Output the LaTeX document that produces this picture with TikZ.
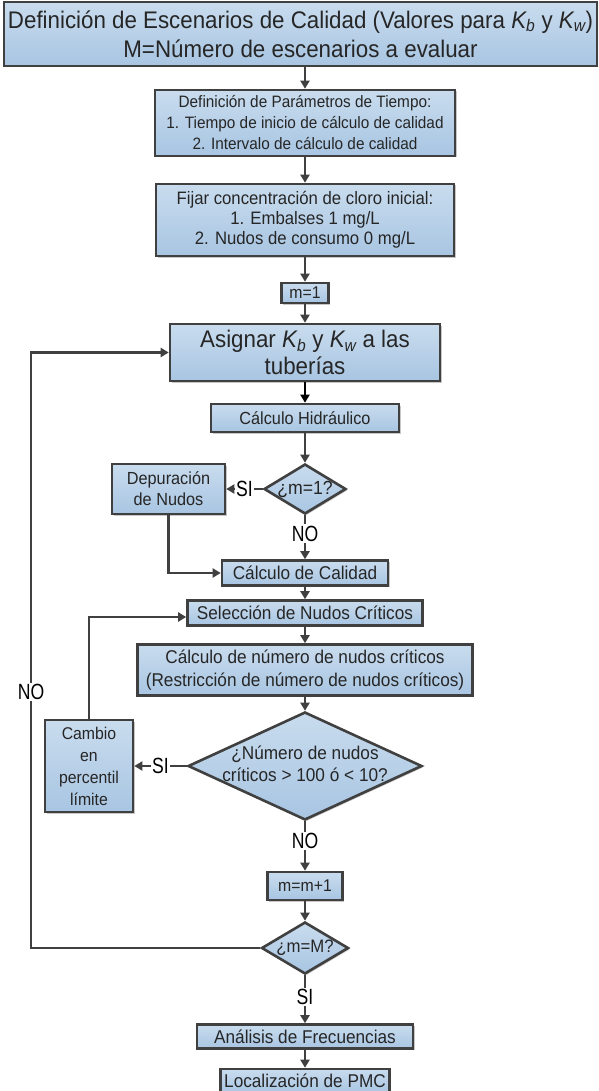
\documentclass[tikz,border=0pt]{standalone}
\usepackage{fontspec}
\setmainfont{Liberation Sans}[FakeStretch=0.93]
\newfontfamily\labfont{Liberation Sans}[FakeStretch=0.8]
\usetikzlibrary{shapes.geometric,arrows.meta,shadows}
\definecolor{bord}{HTML}{404040}
\definecolor{ftop}{HTML}{C9DCEE}
\definecolor{fbot}{HTML}{A8C5E2}
\tikzset{
  box/.style={draw=bord, line width=2.6pt, top color=ftop, bottom color=fbot,
    align=center, inner sep=0pt, text=black!85,
    drop shadow={shadow xshift=1.5pt, shadow yshift=-1.5pt, fill=black, opacity=0.22}},
  dia/.style={box, diamond},
  arr/.style={draw=bord, line width=2.4pt, -{Triangle[length=8pt,width=9pt]}},
  lab/.style={fill=white, inner sep=1.5pt, text=black, font=\labfont\fontsize{22}{22}\selectfont}
}
\newcommand{\Kb}{\textit{K\textsubscript{b}}}
\newcommand{\Kw}{\textit{K\textsubscript{w}}}
\begin{document}
\begin{tikzpicture}[x=1pt,y=-1pt]
\useasboundingbox (0,0) rectangle (598,1091);
\clip (0,0) rectangle (598,1091);

\node[box, minimum width=593pt, minimum height=64pt, font=\fontsize{24}{29}\selectfont] (b1) at (300.5,34)
  {Definición de Escenarios de Calidad (Valores para \Kb{} y \Kw)\\M=Número de escenarios a evaluar};
\node[box, font=\fontsize{16.5}{21}\selectfont, minimum width=300pt, minimum height=66pt] (b2) at (305,123)
  {Definición de Parámetros de Tiempo:\\1. Tiempo de inicio de cálculo de calidad\\2. Intervalo de cálculo de calidad};
\node[box, font=\fontsize{18}{20}\selectfont, minimum width=298pt, minimum height=72pt] (b3) at (305,220)
  {Fijar concentración de cloro inicial:\\1. Embalses 1 mg/L\\2. Nudos de consumo 0 mg/L};
\node[box, font=\fontsize{17}{17}\selectfont, minimum width=47pt, minimum height=20pt] (m1) at (305,293) {m=1};
\node[box, minimum width=270pt, minimum height=57pt, font=\fontsize{24}{27}\selectfont] (asig) at (305,352.5)
  {Asignar \Kb{} y \Kw{} a las\\tuberías};
\node[box, font=\fontsize{17.5}{17.5}\selectfont, minimum width=188pt, minimum height=28pt] (hid) at (305,418) {Cálculo Hidráulico};
\node[dia, minimum width=82pt, minimum height=50pt, font=\fontsize{19}{19}\selectfont] (d1) at (305,489) {\makebox[0pt]{¿m=1?}};
\node[box, font=\fontsize{17.5}{21}\selectfont, minimum width=113pt, minimum height=50pt] (dep) at (168.5,489) {Depuración\\de Nudos};
\node[box, font=\fontsize{18.5}{18.5}\selectfont, minimum width=166pt, minimum height=25pt] (cal) at (305,573) {Cálculo de Calidad};
\node[box, font=\fontsize{18.5}{18.5}\selectfont, minimum width=235pt, minimum height=25pt] (sel) at (305,613) {Selección de Nudos Críticos};
\node[box, font=\fontsize{18.5}{23}\selectfont, minimum width=335pt, minimum height=51pt] (num) at (305,670)
  {Cálculo de número de nudos críticos\\(Restricción de número de nudos críticos)};
\node[dia, minimum width=234pt, minimum height=108pt, font=\fontsize{18.5}{22}\selectfont] (d2) at (305,766)
  {\makebox[0pt]{\begin{tabular}{@{}c@{}}¿Número de nudos\\críticos > 100 ó < 10?\end{tabular}}};
\node[box, font=\fontsize{17}{22}\selectfont, minimum width=88pt, minimum height=92pt] (cam) at (89,766) {Cambio\\en\\percentil\\límite};
\node[box, font=\fontsize{17}{17}\selectfont, minimum width=75pt, minimum height=28pt] (mm) at (305,886) {m=m+1};
\node[dia, minimum width=87pt, minimum height=52pt, font=\fontsize{18}{18}\selectfont] (d3) at (305,948) {\makebox[0pt]{¿m=M?}};
\node[box, font=\fontsize{18.5}{18.5}\selectfont, minimum width=216pt, minimum height=24pt] (ana) at (305,1036.5) {Análisis de Frecuencias};
\node[box, minimum width=169pt, minimum height=24pt, font=\fontsize{18.5}{18.5}\selectfont] (loc) at (305,1081) {Localización de PMC};

\coordinate (lnx) at (31,948);
\coordinate (lny) at (31,352.5);
\coordinate (cx) at (89,617);
\coordinate (dx) at (168.5,573);

\draw[arr] (b2.north |- b1.south) -- (b2.north);
\draw[arr] (b2) -- (b3);
\draw[arr] (b3) -- (m1);
\draw[arr] (m1) -- (asig);
\draw[line width=2.4pt, -{Triangle[length=8pt,width=9pt]}] (asig) -- (hid);
\draw[arr] (hid) -- (d1);
\draw[arr] (d1.west) -- node[lab] {SI} (dep.east);
\draw[arr] (d1.south) -- node[lab, pos=0.42] {NO} (cal.north);
\draw[arr] (dep.south) -- (dx) -- (cal.west);
\draw[arr] (cal) -- (sel);
\draw[arr] (sel) -- (num);
\draw[arr] (num) -- (d2);
\draw[arr] (d2.west) -- node[lab] {SI} (cam.east);
\draw[arr] (cam.north) -- (cx) -- (sel.west |- cx);
\draw[arr] (d2.south) -- node[lab, pos=0.4] {NO} (mm.north);
\draw[arr] (mm) -- (d3);
\draw[arr] (d3.west) -- (lnx) -- node[lab, pos=0.43] {NO} (lny) -- (asig.west);
\draw[arr] (d3.south) -- node[lab, pos=0.45] {SI} (ana.north);
\draw[arr] (ana) -- (loc);
\end{tikzpicture}
\end{document}
